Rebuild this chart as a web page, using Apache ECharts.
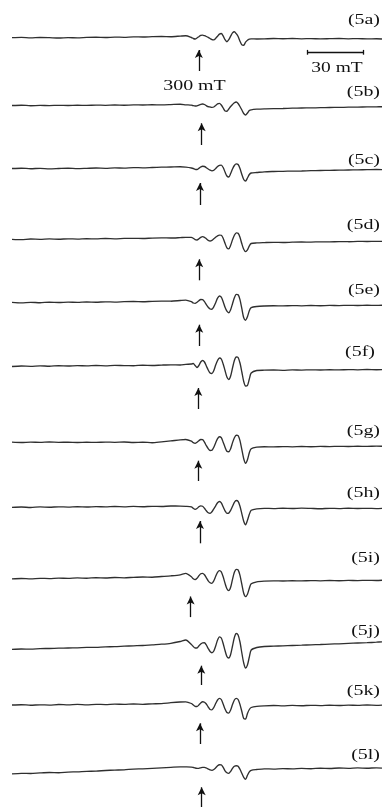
<!DOCTYPE html>
<html>
<head>
<meta charset="utf-8">
<script src="https://cdn.jsdelivr.net/npm/echarts@6/dist/echarts.min.js"></script>
<style>
  html, body { margin: 0; padding: 0; background: #fff; }
  #chart { width: 382px; height: 807px; }
</style>
</head>
<body>
<div id="chart"></div>
<script>
// magnetic field (mT) sample positions, shared by all spectra
const fieldMT = [
  200, 205, 210, 215, 220, 225, 230, 235, 240, 245, 250, 255, 260, 265, 270, 275, 280, 285, 290, 293,
  296, 297, 298, 299, 300, 301, 302, 303, 304, 305, 306, 307, 308, 309, 310, 311, 312,
  313, 314, 315, 316, 317, 318, 319, 320, 321, 322, 323, 324, 325, 326, 327, 328,
  331, 335, 340, 345, 350, 355, 360, 365, 370, 375, 380, 385, 390, 395, 398
];

// EPR signal (arb. units)
const trace5a = [
  0, 0.3, -0.2, 0.2, 0, -0.3, 0.1, -0.2, 0.3, 0.5, 0.2, 0.6, 0.4, 0.8, 0.7, 1.0, 1.2, 1.0, 1.6, 2.0,
  0.2, -0.8, -1.3, -0.3, 1.0, 2.3, 2.6, 2.0, 1.2, 0.3, -0.8, -2.0, -2.2, -0.6, 1.5, 3.6, 4.2,
  1.8, -2.0, -4.0, -2.0, 1.5, 4.8, 6.0, 4.0, 1.2, -3.5, -7.2, -7.5, -4.5, -2.5, -1.5, -1.2,
  -1.3, -1.2, -0.8, -1.0, -0.8, -1.1, -0.9, -1.2, -1.0, -0.8, -1.1, -0.9, -1.2, -1.0, -1.3
];
const trace5b = [
  0.5, 0.8, 0.3, 0.6, 0.4, 0.7, 0.5, 0.8, 0.6, 0.9, 0.7, 1.0, 0.8, 1.1, 1.0, 1.3, 1.1, 1.4, 1.8, 1.2,
  0.8, 0.3, 0, 0.2, 0.9, 1.6, 2.0, 1.5, 0.3, -0.7, -1.0, -1.3, -1.0, 0.5, 2.2, 2.7, 1.0,
  -2.0, -5.0, -5.2, -3.0, -0.5, 1.5, 3.3, 4.0, 2.5, -0.5, -4.0, -7.5, -9.0, -7.0, -4.5, -3.8,
  -3.2, -2.8, -2.6, -2.5, -2.2, -2.0, -1.9, -1.7, -1.5, -1.4, -1.2, -1.1, -0.9, -0.8, -0.7
];
const trace5c = [
  0, 0.3, -0.2, 0.2, -0.3, 0, 0.3, -0.1, 0.2, 0.5, 0.2, 0.6, 0.4, 0.9, 0.7, 1.0, 1.3, 1.5, 1.8, 1.3,
  0.5, 0, -0.8, -1.0, 0.2, 1.5, 2.3, 2.0, 0.8, -0.5, -1.6, -2.3, -1.8, 0, 2.0, 3.1, 3.4,
  1.0, -3.5, -7.5, -8.5, -5.0, -0.5, 3.0, 4.6, 4.0, 0, -6.0, -11.0, -12.5, -9.5, -6.0, -4.5,
  -4.0, -3.3, -3.0, -2.8, -2.6, -2.5, -2.2, -2.0, -1.8, -1.7, -1.5, -1.3, -1.2, -1.0, -1.1
];
const trace5d = [
  0, -0.3, 0.3, 0, 0.4, 0.1, 0.5, 0.2, 0.6, 0.4, 0.8, 0.5, 0.9, 1.0, 0.8, 1.2, 1.4, 1.3, 1.7, 2.0,
  2.0, 1.0, -0.3, -0.7, 0.5, 2.0, 2.7, 2.0, 0.5, -1.0, -1.7, -1.0, 0.5, 2.0, 3.5, 4.2, 4.0,
  1.0, -4.0, -8.5, -9.5, -6.0, -0.5, 4.0, 6.5, 6.0, 2.0, -4.5, -10.0, -12.3, -10.5, -6.5, -4.2,
  -3.6, -3.3, -3.0, -3.2, -2.9, -2.7, -2.8, -2.5, -2.6, -2.3, -2.4, -2.1, -2.2, -2.0, -2.1
];
const trace5e = [
  0.3, -0.2, 0.4, 0, 0.5, 0.2, 0.6, 0.3, 0.7, 0.5, 0.9, 0.6, 1.0, 1.2, 1.0, 1.4, 1.6, 1.5, 2.2, 2.6,
  1.0, -0.3, -0.7, 0.5, 2.0, 3.2, 3.0, 1.0, -2.0, -4.5, -6.3, -6.5, -4.0, 0, 4.5, 6.7, 5.5,
  1.0, -4.5, -8.5, -10.0, -7.0, -1.0, 5.0, 8.3, 8.0, 3.0, -6.0, -15.0, -17.5, -14.0, -8.0, -5.0,
  -3.8, -3.3, -3.0, -3.2, -2.9, -3.1, -2.8, -3.0, -2.7, -2.9, -2.6, -2.8, -2.5, -2.7, -2.5
];
const trace5f = [
  -0.5, 0, -0.3, 0.2, -0.2, 0.3, 0, 0.4, 0.1, 0.5, 0.2, 0.6, 0.4, 0.3, 0.8, 0.5, 0.9, 1.2, 1.0, 1.6,
  2.0, 2.5, 0.5, -1.5, 0.5, 4.0, 5.5, 4.0, 0, -4.0, -7.0, -7.5, -4.5, 1.0, 5.5, 8.0, 7.0,
  2.0, -4.5, -11.0, -13.5, -10.0, -2.0, 5.5, 9.0, 8.5, 3.0, -6.0, -15.5, -20.0, -19.5, -13.0, -7.0,
  -4.5, -4.2, -4.0, -4.3, -3.9, -4.1, -3.8, -4.0, -3.7, -3.9, -3.6, -3.8, -3.5, -3.7, -3.6
];
const trace5g = [
  0.5, 0.2, 0.6, 0.3, 0.7, 0.4, 0.5, 0.2, 0.5, 0.3, 0.6, 0.4, 0.7, 0.2, 0.5, 0, 0.9, 1.8, 2.8, 3.2,
  1.5, 0, -0.7, 0.5, 2.0, 3.2, 3.0, 0.5, -3.0, -6.0, -7.8, -7.5, -4.5, 0, 4.0, 6.0, 5.0,
  0.5, -4.5, -8.5, -9.0, -6.0, 0, 5.0, 7.5, 7.0, 2.0, -7.0, -16.0, -20.5, -17.0, -10.0, -6.0,
  -4.5, -4.0, -4.2, -3.9, -4.1, -3.8, -4.0, -3.7, -3.9, -3.6, -3.8, -3.5, -3.7, -3.4, -3.6
];
const trace5h = [
  0, 0.3, -0.2, 0.4, 0.1, 0.5, 0.2, 0.6, 0.3, 0.7, 0.4, 0.8, 0.5, 0.9, 0.6, 1.0, 0.8, 1.3, 1.2, 1.0,
  0.5, -1.0, -2.0, -1.2, 0.5, 1.5, 1.0, -1.0, -3.5, -5.5, -6.0, -4.5, -1.5, 1.5, 4.5, 5.8, 4.5,
  0.5, -3.5, -6.0, -5.8, -3.0, 1.0, 5.0, 6.8, 6.0, 1.0, -6.5, -14.0, -17.5, -13.0, -7.0, -3.0,
  -1.5, -1.0, -1.3, -0.9, -1.2, -0.8, -1.1, -1.4, -1.0, -1.3, -0.9, -1.2, -1.0, -1.3, -1.1
];
const trace5i = [
  -1.5, -1.2, -1.6, -1.0, -1.3, -0.8, -1.1, -0.6, -0.9, -0.4, -0.7, -0.2, -0.5, 0, 0.3, 0.1, 0.8, 1.5, 2.5, 4.0,
  0.5, -1.5, -2.3, -1.0, 1.5, 3.5, 4.0, 2.5, -0.5, -3.5, -5.5, -6.0, -3.5, 1.0, 5.0, 6.7, 5.5,
  0.5, -6.0, -11.5, -13.3, -10.0, -2.0, 5.0, 8.0, 7.5, 2.0, -7.0, -16.0, -19.3, -17.0, -11.0, -6.5,
  -4.5, -3.8, -3.5, -3.7, -3.4, -3.6, -3.3, -3.5, -3.2, -3.4, -3.1, -3.3, -3.0, -3.2, -2.9
];
const trace5j = [
  -4.3, -4.0, -4.1, -3.6, -3.5, -3.2, -3.0, -2.8, -2.4, -2.3, -1.8, -1.7, -1.2, -0.8, -0.5, 0.2, 0.8, 1.7, 3.5, 5.0,
  0.5, -1.5, -3.0, -3.0, -1.0, 1.0, 2.2, 2.3, 0, -3.5, -6.5, -7.7, -6.0, -1.0, 5.0, 8.2, 7.0,
  1.5, -5.5, -11.5, -13.0, -9.5, -1.0, 7.5, 11.5, 10.0, 3.0, -8.0, -18.0, -23.0, -20.0, -12.0, -5.0,
  -2.5, -1.5, -1.2, -0.8, -0.5, -0.2, 0.2, 0.5, 0.9, 1.2, 1.6, 2.0, 2.3, 2.8, 3.2
];
const trace5k = [
  -0.5, -0.2, -0.7, -0.3, -0.6, 0, -0.4, 0.1, -0.3, 0.2, -0.1, 0.4, 0.1, 0.5, 0.2, 0.7, 0.9, 1.8, 2.5, 2.6,
  1.0, -0.5, -1.8, -2.0, -0.5, 1.5, 2.8, 2.3, 0.5, -2.5, -5.0, -5.3, -3.0, 1.0, 4.5, 6.2, 5.0,
  0.5, -4.5, -8.0, -8.6, -5.5, 0, 4.5, 6.2, 5.0, 0, -7.0, -14.0, -14.5, -9.0, -5.0, -3.0,
  -1.8, -1.3, -1.0, -1.4, -0.9, -1.2, -0.8, -1.1, -0.7, -1.0, -0.6, -0.9, -0.5, -0.8, -0.6
];
const trace5l = [
  -5.5, -5.0, -5.2, -4.6, -4.2, -4.4, -3.8, -3.5, -3.0, -2.8, -2.2, -1.8, -1.5, -0.8, -0.5, 0, 0.5, 1.0, 1.5, 1.4,
  1.2, 0.8, 0.3, 0, 0, 0.5, 1.0, 1.0, 0.3, -0.7, -1.6, -2.0, -1.2, 0.5, 2.5, 3.6, 3.5,
  1.0, -2.5, -4.5, -5.0, -3.0, 0, 2.0, 2.6, 2.0, -1.0, -5.0, -9.0, -11.0, -7.0, -3.5, -2.0,
  -1.2, -0.5, -0.8, -0.3, -0.6, -0.1, -0.4, 0.1, -0.2, 0.3, 0, 0.4, 0.1, 0.5, 0.2
];

const traceLabels = ['(5a)', '(5b)', '(5c)', '(5d)', '(5e)', '(5f)', '(5g)', '(5h)', '(5i)', '(5j)', '(5k)', '(5l)'];

// 300 mT marker arrows: field position and vertical extent (signal units)
const arrowAt = [300, 301.5, 300.6, 300.2, 300.2, 299.7, 299.7, 300.6, 295.6, 301.3, 300.6, 301.5];
const arrowTop = [-8.3, -13.3, -10.5, -16, -18, -18, -14, -9.7, -15.2, -16.7, -14.8, -15];
const arrowBottom = [-33.3, -39, -36.5, -41, -43.3, -43, -38.3, -36, -39.8, -40, -39.5, -38.7];

// 30 mT scale bar (field range)
const scaleBar = [358, 388];

// layout: baseline of each trace on the page, label positions
const baseY = [37.7, 106, 168.5, 239.3, 302.7, 366, 442.7, 507.3, 577.3, 645, 704.5, 768.3];
const labelX = [380, 380, 380, 380, 380, 375, 380, 380, 380, 380, 380, 380];
const labelY = [20.5, 92, 160, 225, 290, 352, 431, 493, 558, 631.5, 691.5, 755.5];

const traces = [trace5a, trace5b, trace5c, trace5d, trace5e, trace5f,
  trace5g, trace5h, trace5i, trace5j, trace5k, trace5l];

const FONT = '15px "Liberation Serif", "Times New Roman", serif';
const chart = echarts.init(document.getElementById('chart'), null, { renderer: 'canvas' });

const grids = [], xAxes = [], yAxes = [], series = [], texts = [];
traces.forEach((vals, i) => {
  grids.push({ left: 12, right: 0, top: baseY[i] - 18, height: 64, outerBoundsMode: 'none' });
  xAxes.push({ type: 'value', gridIndex: i, min: 200, max: 398, show: false });
  yAxes.push({ type: 'value', gridIndex: i, min: -46, max: 18, show: false });

  const marks = [[
    { coord: [arrowAt[i], arrowBottom[i]], symbol: 'none' },
    { coord: [arrowAt[i], arrowTop[i] - 4], symbol: 'arrow', symbolSize: [6, 8] }
  ]];
  if (i === 0) {
    marks.push([{ coord: [scaleBar[0], -14.6] }, { coord: [scaleBar[1], -14.6] }]);
    marks.push([{ coord: [scaleBar[0], -12.2] }, { coord: [scaleBar[0], -17] }]);
    marks.push([{ coord: [scaleBar[1], -12.2] }, { coord: [scaleBar[1], -17] }]);
  }

  series.push({
    type: 'line',
    xAxisIndex: i,
    yAxisIndex: i,
    data: fieldMT.map((f, k) => [f, vals[k]]),
    showSymbol: false,
    smooth: 0.25,
    lineStyle: { color: '#2f2f2f', width: 1.35 },
    markLine: {
      silent: true,
      symbol: ['none', 'none'],
      label: { show: false },
      lineStyle: { type: 'solid', color: '#111', width: 1.3 },
      data: marks
    }
  });

  texts.push({
    type: 'text', x: labelX[i], y: labelY[i], scaleX: 1.33,
    style: { text: traceLabels[i], font: FONT, fill: '#111',
      align: 'right', textAlign: 'right', verticalAlign: 'middle', textVerticalAlign: 'middle' }
  });
});

texts.push({
  type: 'text', x: 194.5, y: 86, scaleX: 1.33,
  style: { text: '300 mT', font: FONT, fill: '#111',
    align: 'center', textAlign: 'center', verticalAlign: 'middle', textVerticalAlign: 'middle' }
});
texts.push({
  type: 'text', x: 337, y: 68.5, scaleX: 1.3,
  style: { text: '30 mT', font: FONT, fill: '#111',
    align: 'center', textAlign: 'center', verticalAlign: 'middle', textVerticalAlign: 'middle' }
});

chart.setOption({
  animation: false,
  backgroundColor: '#fff',
  grid: grids,
  xAxis: xAxes,
  yAxis: yAxes,
  series: series,
  graphic: texts
});
</script>
</body>
</html>
